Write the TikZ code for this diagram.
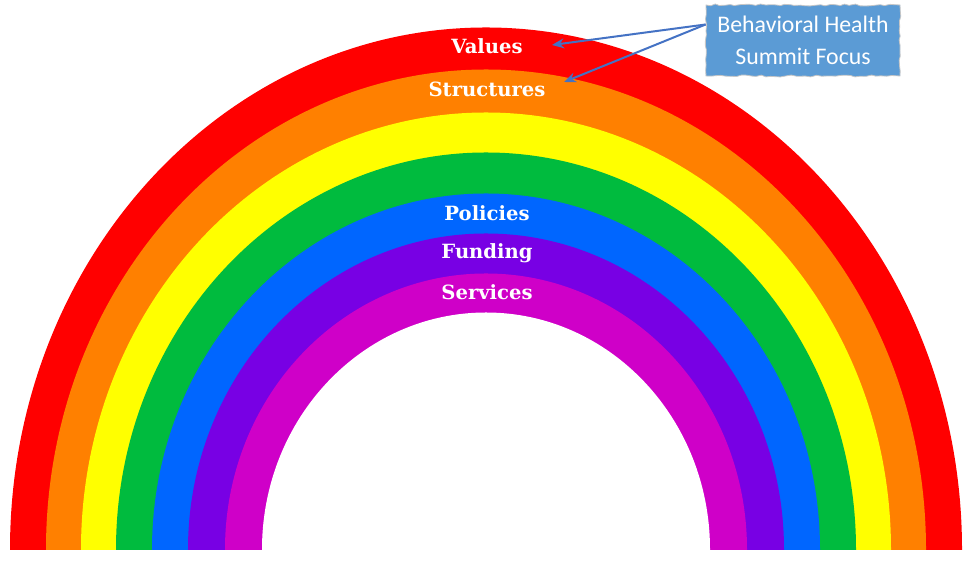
\documentclass[tikz,border=0pt]{standalone}
\usepackage{fontspec}
\setmainfont{Carlito}
\newfontfamily\bandfont{DejaVu Serif}
\usepackage{tikz}
\usetikzlibrary{positioning,arrows.meta,calc,decorations.pathmorphing}
\definecolor{bandR}{HTML}{FF0000}
\definecolor{bandO}{HTML}{FF8000}
\definecolor{bandY}{HTML}{FFFF00}
\definecolor{bandG}{HTML}{00BB3E}
\definecolor{bandB}{HTML}{0066FF}
\definecolor{bandP}{HTML}{7800E4}
\definecolor{bandM}{HTML}{CF00C8}
\definecolor{calloutfill}{HTML}{5B9BD5}
\definecolor{pointer}{HTML}{4472C4}
\tikzset{
  bandlab/.style ={text=white, font=\bandfont\bfseries\fontsize{9.8}{11}\selectfont,
                   inner sep=1pt},
  callout/.style ={fill=calloutfill, draw=gray!45, line width=0.4pt,
                   decorate, decoration={random steps,segment length=2.5pt,amplitude=0.5pt},
                   text=white, minimum width=97pt, minimum height=35.5pt,
                   align=center, font=\fontsize{11.9}{16}\selectfont, inner sep=1pt},
  % pointers from the focus box back into the arcs
  pointer/.style ={draw=pointer, line width=1pt, -{Stealth[length=6pt,width=5pt]}},
}
% colour / horizontal radius / vertical radius, outermost first
\def\bandlist{bandR/476/522, bandO/440/480, bandY/405/437, bandG/370/397,
              bandB/334/356, bandP/298/316, bandM/261/276, white/224/237}
\def\labellist{val/519/Values, str/476/Structures, pol/352/Policies,
               fun/312/Funding, ser/273/Services}
\begin{document}
\begin{tikzpicture}[x=0.5pt,y=0.5pt]
\useasboundingbox (0,0) rectangle (974,565);
\coordinate (base) at (486,15.5);
\begin{scope}
  \clip (0,15.5) rectangle (974,565);
  \foreach \c/\rx/\ry in \bandlist
    {\fill[\c] ($(base)+(-\rx,-6)$) -- ($(base)+(-\rx,0)$) arc[start angle=180,
        end angle=0,x radius=\rx,y radius=\ry] -- ++(0,-6) -- cycle;}
\end{scope}
\foreach \n/\y/\t in \labellist {\node[bandlab] (\n) at (487,\y) {\t};}
\node[callout] (focus) at (803,524.5) {Behavioral Health\\ Summit Focus};
\coordinate (tipA) at (552,520);
\coordinate (tipB) at (564,483);
\draw[pointer] ([yshift=8]focus.west) -- (tipA);
\draw[pointer] ([yshift=8]focus.west) -- (tipB);
\end{tikzpicture}
\end{document}
